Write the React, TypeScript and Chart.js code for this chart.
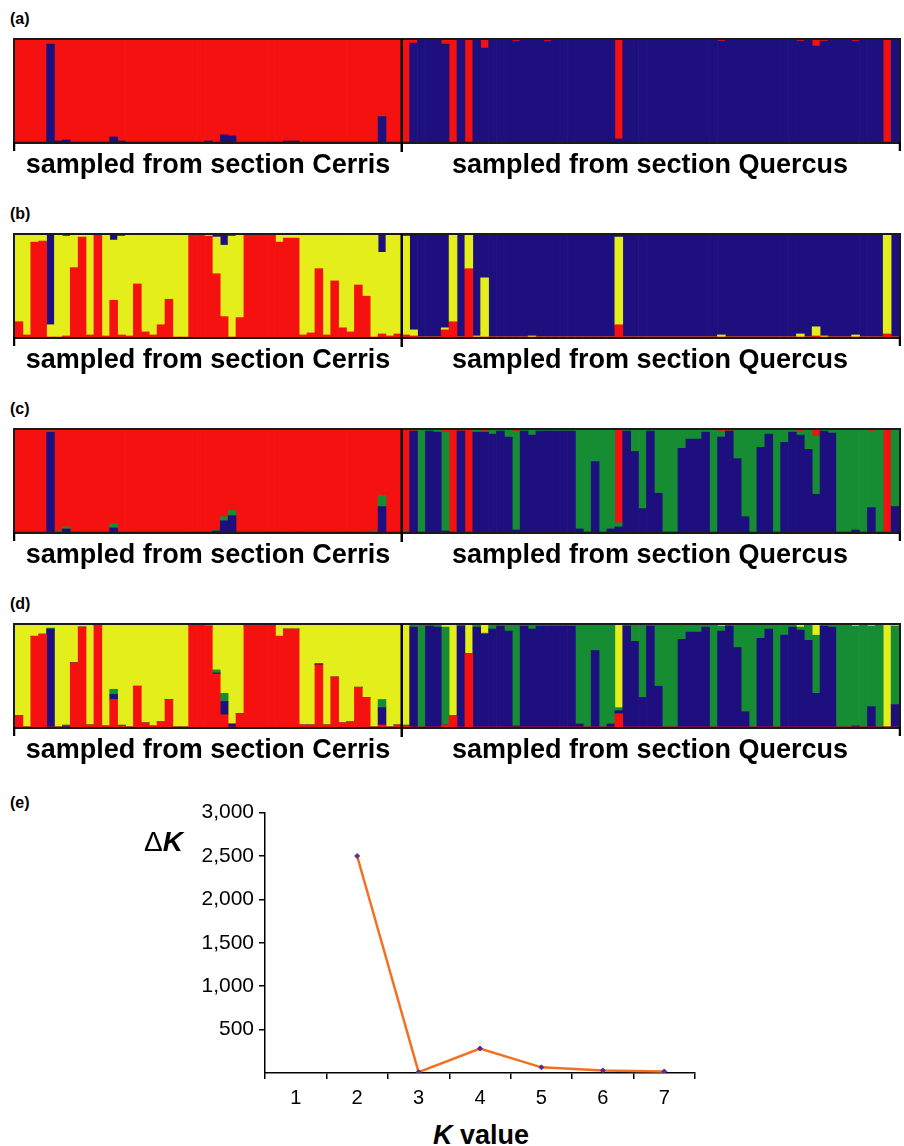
import React, { useEffect, useRef } from "react";
import { Chart, registerables } from "chart.js";

Chart.register(...registerables);

const FONT = '"Liberation Sans", Arial, Helvetica, sans-serif';
Chart.defaults.font.family = FONT;

const RED = "#f61111";
const BLUE = "#1d0f7d";
const YELLOW = "#e4ee1a";
const GREEN = "#178d33";

// ---------- individuals (49 sampled from section Cerris, 63 from section Quercus)
const CERRIS_IDS = Array.from({ length: 49 }, (_, i) => `Cerris ${i + 1}`);
const QUERCUS_IDS = Array.from({ length: 63 }, (_, i) => `Quercus ${i + 1}`);
const INDIVIDUALS = [...CERRIS_IDS, ...QUERCUS_IDS];

// ---------- (a) K = 2 (stack order bottom -> top: blue, red)
const A_BLUE_C = [0,0,0,0,96,1,2,0,0,0, 0,0,5,1,0,0,0,0,0,0, 0,0,0,0,1,0,7,6,0,0, 0,0,0,0,1,1,0,0,0,0, 0,0,0,0,0,0,25,0,0];
const A_RED_C = [100,100,100,100,4,99,98,100,100,100, 100,100,95,99,100,100,100,100,100,100, 100,100,100,100,99,100,93,94,100,100, 100,100,100,100,99,99,100,100,100,100, 100,100,100,100,100,100,75,100,100];
const A_BLUE_Q = [0,97,100,100,100,96,0,100,0,100, 92,100,100,100,99,100,100,100,99,100, 100,100,100,100,100,100,100,3,100,100, 100,100,100,100,100,100,100,100,100,100, 99,100,100,100,100,100,100,100,100,100, 99,100,94,99,100,100,100,99,100,100, 100,0,100];
const A_RED_Q = [100,3,0,0,0,4,100,0,100,0, 8,0,0,0,1,0,0,0,1,0, 0,0,0,0,0,0,0,97,0,0, 0,0,0,0,0,0,0,0,0,0, 1,0,0,0,0,0,0,0,0,0, 1,0,6,1,0,0,0,1,0,0, 0,100,0];

// ---------- (b) K = 3 (bottom -> top: red, yellow, blue)
const B_RED_C = [15,2,93,94,0,0,1,68,98,2, 100,1,36,2,1,52,5,2,12,37, 0,0,100,100,99,62,20,0,19,100, 100,100,100,93,97,97,2,4,67,2, 55,9,5,51,40,0,3,1,3];
const B_YELLOW_C = [85,98,7,6,12,100,98,32,2,98, 0,99,59,97,99,48,95,98,88,63, 100,100,0,0,1,36,70,99,81,0, 0,0,0,7,3,3,98,96,33,98, 45,91,95,49,60,100,80,99,97];
const B_BLUE_C = [0,0,0,0,88,0,1,0,0,0, 0,0,5,1,0,0,0,0,0,0, 0,0,0,0,0,2,10,1,0,0, 0,0,0,0,0,0,0,0,0,0, 0,0,0,0,0,0,17,0,0];
const B_RED_Q = [2,1,0,0,0,7,15,0,67,0, 0,0,0,0,0,0,0,0,0,0, 0,0,0,0,0,0,0,12,0,0, 0,0,0,0,0,0,0,0,0,0, 0,0,0,0,0,0,0,0,0,0, 0,0,1,0,0,0,0,0,0,0, 0,3,0];
const B_YELLOW_Q = [97,6,0,0,0,2,85,0,33,1, 58,0,0,0,0,0,1,0,0,0, 0,0,0,0,0,0,0,86,0,0, 0,0,0,0,0,0,0,0,0,0, 2,0,0,0,0,0,0,0,0,0, 3,0,9,1,0,0,0,2,0,0, 0,97,0];
const B_BLUE_Q = [1,93,100,100,100,91,0,100,0,99, 42,100,100,100,100,100,99,100,100,100, 100,100,100,100,100,100,100,2,100,100, 100,100,100,100,100,100,100,100,100,100, 98,100,100,100,100,100,100,100,100,100, 97,100,90,99,100,100,100,98,100,100, 100,0,100];

// ---------- (c) K = 3 (bottom -> top: blue, green, red)
const C_BLUE_C = [0,0,0,0,98,0,3,0,0,0, 0,0,4,0,0,0,0,0,0,0, 0,0,0,0,0,1,11,16,0,0, 0,0,0,0,0,0,0,0,0,0, 0,0,0,0,0,0,25,0,0];
const C_GREEN_C = [0,0,0,0,1,1,2,0,0,0, 0,0,4,0,0,0,0,0,0,0, 0,0,0,0,0,1,4,5,0,0, 0,0,0,0,0,0,0,0,0,0, 0,0,0,0,0,1,11,0,0];
const C_RED_C = [100,100,100,100,1,99,95,100,100,100, 100,100,92,100,100,100,100,100,100,100, 100,100,100,100,100,98,85,79,100,100, 100,100,100,100,100,100,100,100,100,100, 100,100,100,100,100,99,64,100,100];
const C_BLUE_Q = [0,99,0,99,98,1,0,99,0,98, 98,96,99,93,2,99,95,99,99,99, 99,99,3,0,69,0,3,5,99,79, 23,99,38,0,0,82,91,91,98,0, 93,99,72,15,0,83,96,0,88,98, 95,81,37,99,97,0,0,2,0,24, 0,0,25];
const C_GREEN_Q = [1,0,100,1,2,97,0,0,0,2, 1,4,1,7,97,1,5,1,1,1, 1,1,97,100,31,100,97,4,1,21, 77,1,62,100,100,18,9,9,2,100, 6,0,28,85,100,17,4,100,12,2, 4,19,57,1,3,100,100,98,100,75, 100,0,75];
const C_RED_Q = [99,1,0,0,0,2,100,1,100,0, 1,0,0,0,1,0,0,0,0,0, 0,0,0,0,0,0,0,91,0,0, 0,0,0,0,0,0,0,0,0,0, 1,1,0,0,0,0,0,0,0,0, 1,0,6,0,0,0,0,0,0,1, 0,100,0];

// ---------- (d) K = 4 (bottom -> top: red, blue, green, yellow)
const D_RED_C = [11,0,89,91,0,0,0,63,98,2, 100,1,27,1,0,40,4,1,5,27, 0,0,100,100,99,52,12,0,13,100, 100,100,100,89,96,96,2,2,61,2, 49,4,5,39,29,0,2,0,2];
const D_BLUE_C = [0,0,0,0,96,0,1,0,0,0, 0,0,5,0,0,0,0,0,0,0, 0,0,0,0,0,1,13,3,0,0, 0,0,0,0,0,0,0,0,1,0, 0,0,0,0,0,0,17,0,0];
const D_GREEN_C = [0,0,0,0,1,0,1,0,0,0, 0,0,5,1,0,0,0,0,0,0, 0,0,0,0,0,3,8,0,0,0, 0,0,0,0,0,0,0,0,0,0, 0,0,0,0,0,0,8,0,0];
const D_YELLOW_C = [89,100,11,9,3,100,98,37,2,98, 0,99,63,98,100,60,96,99,95,73, 100,100,0,0,1,44,67,97,87,0, 0,0,0,11,4,4,98,98,38,98, 51,96,95,61,71,100,73,100,98];
const D_RED_Q = [1,0,0,0,0,2,11,0,72,0, 0,0,0,0,0,0,0,0,0,0, 0,0,0,0,0,0,0,13,0,0, 0,0,0,0,0,0,0,0,0,0, 0,0,0,0,0,0,0,0,0,0, 0,0,0,0,0,0,0,0,0,0, 0,0,0];
const D_BLUE_Q = [0,98,0,99,98,0,0,99,0,98, 91,96,99,94,1,99,96,99,99,99, 99,99,3,0,75,0,3,3,99,84, 29,99,40,0,0,86,93,93,98,0, 94,99,78,15,0,87,96,0,90,98, 95,85,33,99,98,0,0,1,0,20, 0,0,22];
const D_GREEN_Q = [1,2,100,1,2,96,0,1,0,2, 1,4,1,6,99,1,4,1,1,1, 1,1,97,100,25,100,97,3,1,16, 71,1,60,100,100,14,7,7,2,100, 5,1,22,85,100,13,4,100,10,2, 3,15,57,1,2,100,100,98,100,79, 100,0,77];
const D_YELLOW_Q = [98,0,0,0,0,2,89,0,28,0, 8,0,0,0,0,0,0,0,0,0, 0,0,0,0,0,0,0,81,0,0, 0,0,0,0,0,0,0,0,0,0, 1,0,0,0,0,0,0,0,0,0, 2,0,10,0,0,0,0,1,0,1, 0,100,1];

// ---------- (e) Delta K
const K_VALUES = ["1", "2", "3", "4", "5", "6", "7"];
const DELTA_K = [null, 2500, 10, 282, 65, 30, 18];
const DK_TICKS = [500, 1000, 1500, 2000, 2500, 3000];

type Series = { name: string; color: string; cerris: number[]; quercus: number[] };

const PANELS: { letter: string; series: Series[] }[] = [
  { letter: "a", series: [
    { name: "cluster blue", color: BLUE, cerris: A_BLUE_C, quercus: A_BLUE_Q },
    { name: "cluster red", color: RED, cerris: A_RED_C, quercus: A_RED_Q },
  ] },
  { letter: "b", series: [
    { name: "cluster red", color: RED, cerris: B_RED_C, quercus: B_RED_Q },
    { name: "cluster yellow", color: YELLOW, cerris: B_YELLOW_C, quercus: B_YELLOW_Q },
    { name: "cluster blue", color: BLUE, cerris: B_BLUE_C, quercus: B_BLUE_Q },
  ] },
  { letter: "c", series: [
    { name: "cluster blue", color: BLUE, cerris: C_BLUE_C, quercus: C_BLUE_Q },
    { name: "cluster green", color: GREEN, cerris: C_GREEN_C, quercus: C_GREEN_Q },
    { name: "cluster red", color: RED, cerris: C_RED_C, quercus: C_RED_Q },
  ] },
  { letter: "d", series: [
    { name: "cluster red", color: RED, cerris: D_RED_C, quercus: D_RED_Q },
    { name: "cluster blue", color: BLUE, cerris: D_BLUE_C, quercus: D_BLUE_Q },
    { name: "cluster green", color: GREEN, cerris: D_GREEN_C, quercus: D_GREEN_Q },
    { name: "cluster yellow", color: YELLOW, cerris: D_YELLOW_C, quercus: D_YELLOW_Q },
  ] },
];

const framePlugin = {
  id: "structureFrame",
  afterDatasetsDraw(chart: any) {
    const { ctx, chartArea, scales } = chart;
    const { left, right, top, bottom } = chartArea;
    const x = scales.x;
    const sep = (x.getPixelForValue(CERRIS_IDS.length - 1) + x.getPixelForValue(CERRIS_IDS.length)) / 2;
    ctx.save();
    ctx.strokeStyle = "#1a1a1a";
    ctx.lineWidth = 2;
    ctx.strokeRect(left - 1, top - 1, right - left + 2, bottom - top + 2);
    ctx.lineWidth = 2.5;
    ctx.strokeStyle = "#000";
    ctx.beginPath();
    ctx.moveTo(sep, top - 1);
    ctx.lineTo(sep, bottom + 10);
    ctx.moveTo(left - 1, bottom);
    ctx.lineTo(left - 1, bottom + 9);
    ctx.moveTo(right + 1, bottom);
    ctx.lineTo(right + 1, bottom + 9);
    ctx.stroke();
    ctx.restore();
  },
};

const sectionLabel: React.CSSProperties = {
  position: "absolute",
  width: 500,
  textAlign: "center",
  font: `bold 27px ${FONT}`,
  lineHeight: "27px",
  color: "#000",
  whiteSpace: "nowrap",
};

function StructurePanel({ index, letter, series }: { index: number; letter: string; series: Series[] }) {
  const ref = useRef<HTMLCanvasElement | null>(null);
  useEffect(() => {
    const chart = new Chart(ref.current as HTMLCanvasElement, {
      type: "bar",
      data: {
        labels: INDIVIDUALS,
        datasets: series.map((s) => ({
          label: s.name,
          data: [...s.cerris, ...s.quercus],
          backgroundColor: s.color,
          borderWidth: 0,
          barPercentage: 1,
          categoryPercentage: 1,
        })),
      },
      options: {
        animation: false,
        responsive: false,
        maintainAspectRatio: false,
        layout: { padding: { left: 2, right: 2, top: 3, bottom: 12 } },
        plugins: { legend: { display: false }, tooltip: { enabled: false } },
        scales: {
          x: { display: false, stacked: true },
          y: { display: false, stacked: true, min: 0, max: 100 },
        },
      },
      plugins: [framePlugin],
    });
    return () => chart.destroy();
  }, []);
  const off = 195 * index;
  return (
    <>
      <div style={{ position: "absolute", left: 10, top: 11 + off, font: `bold 16px ${FONT}`, lineHeight: "16px" }}>({letter})</div>
      <canvas ref={ref} width={888} height={117} style={{ position: "absolute", left: 13, top: 37 + off, width: 888, height: 117 }} />
      <div style={{ ...sectionLabel, left: 208 - 250, top: 151 + off }}>sampled from section Cerris</div>
      <div style={{ ...sectionLabel, left: 650 - 250, top: 151 + off }}>sampled from section Quercus</div>
    </>
  );
}

function DeltaKChart() {
  const ref = useRef<HTMLCanvasElement | null>(null);
  useEffect(() => {
    const chart = new Chart(ref.current as HTMLCanvasElement, {
      type: "line",
      data: {
        labels: K_VALUES,
        datasets: [
          {
            label: "ΔK",
            data: DELTA_K,
            borderColor: "#f37021",
            borderWidth: 2.5,
            pointStyle: "rectRot",
            pointRadius: 2.5,
            pointBackgroundColor: "#5c2d91",
            pointBorderColor: "#5c2d91",
            pointBorderWidth: 1,
            tension: 0,
            spanGaps: false,
          },
        ],
      },
      options: {
        animation: false,
        responsive: false,
        maintainAspectRatio: false,
        layout: { padding: { left: 0, right: 10, top: 17, bottom: 0 } },
        plugins: { legend: { display: false }, tooltip: { enabled: false } },
        scales: {
          x: {
            offset: true,
            grid: { display: true, offset: true, drawOnChartArea: false, drawTicks: true, tickLength: 6, color: "#000", lineWidth: 1.5 },
            border: { display: true, color: "#000", width: 1.5 },
            ticks: { color: "#000", font: { size: 20, family: FONT }, padding: 7, maxRotation: 0 },
            afterFit: (s: any) => { s.height = 42; },
          },
          y: {
            min: 0,
            max: 3000,
            afterBuildTicks: (s: any) => { s.ticks = DK_TICKS.map((v) => ({ value: v })); },
            grid: { display: true, drawOnChartArea: false, drawTicks: true, tickLength: 6, color: "#000", lineWidth: 1.5 },
            border: { display: true, color: "#000", width: 1.5 },
            ticks: {
              color: "#000",
              font: { size: 21, family: FONT },
              padding: 5,
              callback: (v: any) => Number(v).toLocaleString("en-US"),
            },
            afterFit: (s: any) => { s.width = 95; },
          },
        },
      },
    });
    return () => chart.destroy();
  }, []);
  return (
    <>
      <div style={{ position: "absolute", left: 10, top: 795, font: `bold 16px ${FONT}`, lineHeight: "16px" }}>(e)</div>
      <canvas ref={ref} width={535} height={320} style={{ position: "absolute", left: 170, top: 795, width: 535, height: 320 }} />
      <div style={{ position: "absolute", left: 144, top: 828, font: `bold 28px ${FONT}`, lineHeight: "28px" }}>
        <span style={{ fontWeight: "normal" }}>Δ</span><i>K</i>
      </div>
      <div style={{ position: "absolute", left: 381, width: 200, textAlign: "center", top: 1122, font: `bold 27px ${FONT}`, lineHeight: "27px" }}>
        <i>K</i> value
      </div>
    </>
  );
}

export default function App() {
  return (
    <div style={{ position: "absolute", left: 0, top: 0, width: 904, height: 1146, background: "#fff", overflow: "hidden" }}>
      {PANELS.map((p, i) => (
        <StructurePanel key={p.letter} index={i} letter={p.letter} series={p.series} />
      ))}
      <DeltaKChart />
    </div>
  );
}
